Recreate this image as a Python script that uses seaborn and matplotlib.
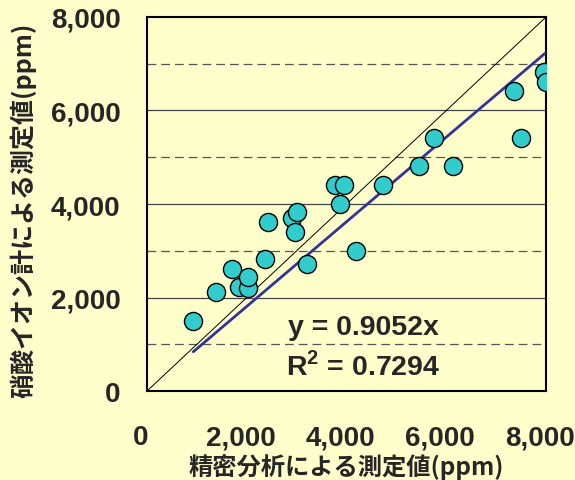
import numpy as np
import pandas as pd
import seaborn as sns
import matplotlib.pyplot as plt
import matplotlib.transforms as mtransforms

# 精密分析 vs 硝酸イオン計 (ppm)
precise = [928, 1377, 1697, 1844, 2030, 2030, 2365, 2418, 2900, 2966, 3000, 3213,
           3774, 3874, 3942, 4188, 4736, 5458, 5752, 6139, 7349, 7495, 7962, 7990]
meter = [1504, 2111, 2610, 2218, 2197, 2432, 2824, 3622, 3700, 3408, 3822, 2717,
         4413, 4010, 4413, 3001, 4413, 4820, 5412, 4820, 6411, 5412, 6830, 6616]
slope = 0.9052
r2 = 0.7294
ticks = [0, 2000, 4000, 6000, 8000]
tick_labels = ["0", "2,000", "4,000", "6,000", "8,000"]

bg = "#FFFFCC"
sns.set_style("white")
plt.rcParams['font.family'] = ['Liberation Sans', 'Noto Sans CJK JP', 'DejaVu Sans']
plt.rcParams['mathtext.fontset'] = 'custom'
plt.rcParams['mathtext.rm'] = 'Liberation Sans:bold'
plt.rcParams['mathtext.bf'] = 'Liberation Sans:bold'

df = pd.DataFrame({"x": precise, "y": meter})

fig = plt.figure(figsize=(5.75, 4.81), dpi=100, facecolor=bg)
ax = fig.add_axes([0.2557, 0.185, 0.694, 0.7776])
ax.set_facecolor(bg)

# grid lines
for v in [2000, 4000, 6000]:
    ax.axhline(v, color="#444444", lw=0.9, zorder=1)
for v in [1000, 3000, 5000, 7000]:
    ax.axhline(v, color="#555555", lw=0.9, ls=(0, (7, 4)), zorder=1)

# 1:1 line and regression line
one = pd.DataFrame({"x": [0, 8000], "y": [0, 8000]})
sns.lineplot(data=one, x="x", y="y", color="black", lw=0.7, ax=ax, zorder=2)
fx = np.array([min(precise), max(precise)])
fit = pd.DataFrame({"x": fx, "y": slope * fx})
sns.lineplot(data=fit, x="x", y="y", color="#333399", lw=2, ax=ax, zorder=3)

sns.scatterplot(data=df, x="x", y="y", s=170, color="#33CCCC", edgecolor="black",
                linewidth=1, ax=ax, zorder=4)

ax.set_xlim(0, 8000)
ax.set_ylim(0, 8000)
ax.set_xticks(ticks)
ax.set_xticklabels(tick_labels, fontsize=20, fontweight="bold")
ax.set_yticks(ticks)
ax.set_yticklabels(tick_labels, fontsize=20, fontweight="bold")
ax.set_yticks(range(1000, 8000, 2000), minor=True)
ax.tick_params(axis="x", direction="in", length=7, width=1, pad=24)
ax.tick_params(axis="y", which="both", direction="in", length=4, width=1, pad=19)
# labels sit a little left of their ticks in the original
shift = mtransforms.ScaledTranslation(-6 / 100, 0, fig.dpi_scale_trans)
for lbl in ax.get_xticklabels():
    lbl.set_transform(lbl.get_transform() + shift)
for sp in ax.spines.values():
    sp.set_color("black")
    sp.set_linewidth(1.5)

ax.set_xlabel("精密分析による測定値(ppm)", fontsize=17.5, fontweight="bold",
              family=['Noto Sans CJK JP'], va="center")
ax.set_ylabel("硝酸イオン計による測定値(ppm)", fontsize=18, fontweight="bold",
              family=['Noto Sans CJK JP'], va="center")
ax.xaxis.set_label_coords(0.5, -0.2)
ax.yaxis.set_label_coords(-0.31, 0.487)

ax.text(4330, 1370, f"y = {slope}x", fontsize=20.5, fontweight="bold", ha="center",
        va="center", zorder=5, bbox=dict(facecolor=bg, edgecolor="none", pad=1))
ax.text(4330, 550, f"R$^\\mathbf{{2}}$ = {r2}", fontsize=20.5, fontweight="bold",
        ha="center", va="center", zorder=5)

fig.savefig("out.png", dpi=100, facecolor=bg)
